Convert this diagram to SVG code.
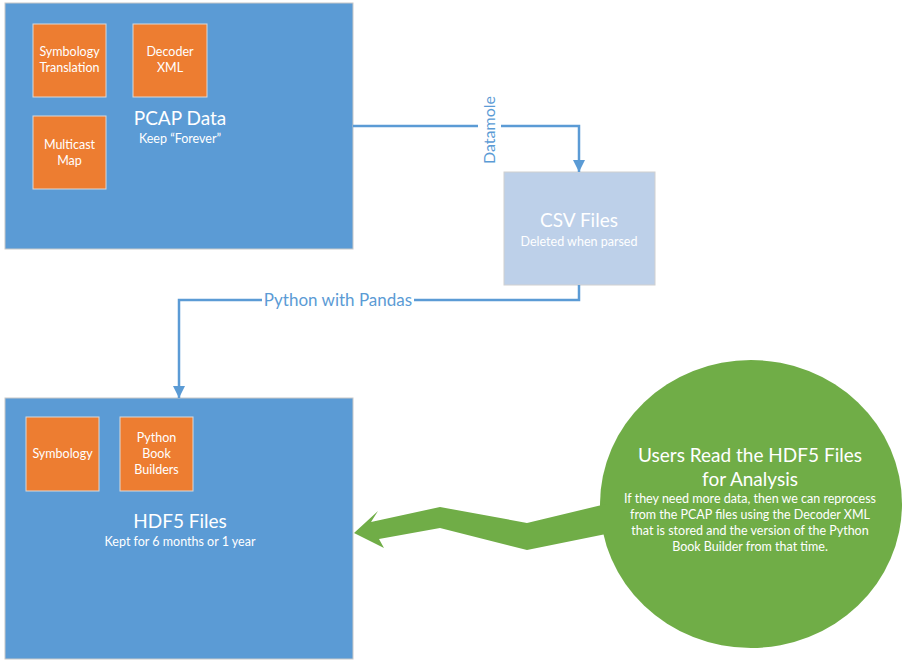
<svg xmlns="http://www.w3.org/2000/svg" width="906" height="668" viewBox="0 0 906 668">
<defs>
<style>
.big{fill:#5B9BD5;stroke:#C8C8C8;stroke-width:1}
.org{fill:#ED7D31;stroke:#D9D9D9;stroke-width:1}
.t{font-family:Lato,"Open Sans",sans-serif;fill:#FFFFFF;text-anchor:middle}
.title{font-size:19px}
.sub{font-size:12.5px}
.small{font-size:12.5px}
.conn{fill:none;stroke:#5B9BD5;stroke-width:2.5}
.lbl{font-family:Lato,"Open Sans",sans-serif;fill:#5B9BD5;text-anchor:middle}
</style>
<marker id="ah" markerWidth="12" markerHeight="12" viewBox="0 0 12 12" refX="12" refY="6" orient="auto" markerUnits="userSpaceOnUse">
<path d="M0,0 L12,6 L0,12 Z" fill="#5B9BD5"/>
</marker>
</defs>
<rect width="906" height="668" fill="#FFFFFF"/>

<g id="pcap">
<rect class="big" x="5" y="3" width="348" height="246"/>
<text class="t title" x="180" y="125">PCAP Data</text>
<text class="t sub" x="180" y="143">Keep “Forever”</text>
</g>
<g id="symbology-translation">
<rect class="org" x="33" y="24" width="73" height="73"/>
<text class="t small" x="69.5" y="56">Symbology</text>
<text class="t small" x="69.5" y="72">Translation</text>
</g>
<g id="decoder-xml">
<rect class="org" x="133" y="24" width="74" height="73"/>
<text class="t small" x="170" y="56">Decoder</text>
<text class="t small" x="170" y="72">XML</text>
</g>
<g id="multicast-map">
<rect class="org" x="33" y="116" width="73" height="73"/>
<text class="t small" x="69.5" y="149">Multicast</text>
<text class="t small" x="69.5" y="165">Map</text>
</g>

<g id="csv">
<rect x="504" y="172" width="151" height="113" fill="#BDD0E9" stroke="#D0D0D0" stroke-width="1"/>
<text class="t title" x="579" y="227">CSV Files</text>
<text class="t sub" x="579" y="246">Deleted when parsed</text>
</g>

<g id="hdf5">
<rect class="big" x="5" y="398" width="348" height="261"/>
<text class="t title" x="180" y="528">HDF5 Files</text>
<text class="t sub" x="180" y="546">Kept for 6 months or 1 year</text>
</g>
<g id="symbology">
<rect class="org" x="26" y="417" width="73" height="74"/>
<text class="t small" x="62.5" y="458">Symbology</text>
</g>
<g id="python-book-builders">
<rect class="org" x="120" y="417" width="73" height="74"/>
<text class="t small" x="156.5" y="442">Python</text>
<text class="t small" x="156.5" y="458">Book</text>
<text class="t small" x="156.5" y="474">Builders</text>
</g>

<g id="users">
<ellipse cx="751" cy="504" rx="151" ry="144" fill="#70AD47"/>
<text class="t" x="750" y="462" font-size="19">Users Read the HDF5 Files</text>
<text class="t" x="750" y="486" font-size="19">for Analysis</text>
<text class="t small" x="750" y="503">If they need more data, then we can reprocess</text>
<text class="t small" x="750" y="519">from the PCAP files using the Decoder XML</text>
<text class="t small" x="750" y="535">that is stored and the version of the Python</text>
<text class="t small" x="750" y="551">Book Builder from that time.</text>
</g>

<g id="connectors">
<path class="conn" d="M353,126 H579 V172" marker-end="url(#ah)"/>
<rect x="478" y="96" width="23" height="68" fill="#FFFFFF"/>
<text class="lbl" font-size="16" transform="translate(495,130) rotate(-90)">Datamole</text>
<path class="conn" d="M579,285 V300 H179 V398" marker-end="url(#ah)"/>
<rect x="262" y="290" width="152" height="20" fill="#FFFFFF"/>
<text class="lbl" font-size="17" x="338" y="306">Python with Pandas</text>
<polygon points="354,533 378,511 371,522 440,507 527,523 606,504 606,534 527,550 440,528 379,539 384,548" fill="#70AD47"/>
</g>
</svg>
